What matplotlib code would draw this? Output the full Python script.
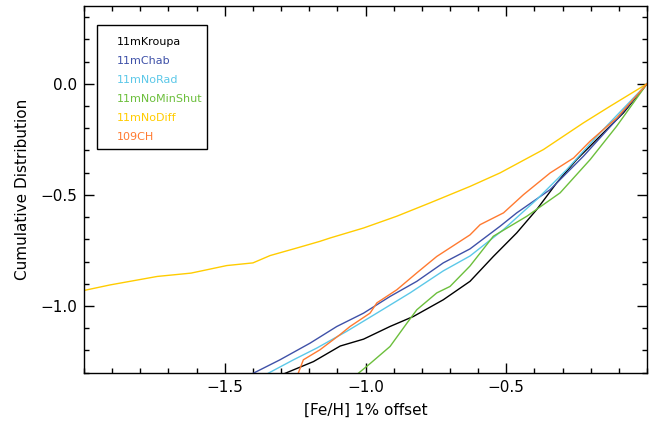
import matplotlib
matplotlib.use("Agg")
import matplotlib.pyplot as plt
from matplotlib.patches import Rectangle
from matplotlib.ticker import MultipleLocator

# cumulative distributions of [Fe/H] (1% offset) for each run
kroupa_x = [-1.286, -1.185, -1.09, -1.007, -0.913, -0.83, -0.724, -0.629, -0.546,
            -0.463, -0.392, -0.321, -0.25, -0.179, -0.084, 0.0]
kroupa_y = [-1.303, -1.25, -1.18, -1.149, -1.092, -1.047, -0.972, -0.889, -0.777,
            -0.671, -0.566, -0.446, -0.341, -0.251, -0.131, 0.0]

chab_x = [-1.398, -1.304, -1.197, -1.102, -1.007, -0.913, -0.818, -0.724, -0.629,
          -0.522, -0.463, -0.344, -0.226, -0.108, 0.0]
chab_y = [-1.302, -1.242, -1.167, -1.092, -1.032, -0.957, -0.889, -0.806, -0.743,
          -0.641, -0.581, -0.476, -0.326, -0.161, 0.0]

norad_x = [-1.345, -1.256, -1.173, -1.067, -0.96, -0.842, -0.724, -0.629, -0.51,
           -0.392, -0.285, -0.167, 0.0]
norad_y = [-1.302, -1.242, -1.189, -1.114, -1.032, -0.941, -0.842, -0.775, -0.656,
           -0.521, -0.386, -0.221, 0.0]

nominshut_x = [-1.025, -0.982, -0.913, -0.853, -0.818, -0.747, -0.7, -0.629, -0.546,
               -0.427, -0.309, -0.202, -0.108, 0.0]
nominshut_y = [-1.302, -1.257, -1.182, -1.077, -1.017, -0.941, -0.912, -0.82, -0.686,
               -0.596, -0.491, -0.341, -0.191, 0.0]

nodiff_x = [-2.0, -1.907, -1.74, -1.62, -1.493, -1.40, -1.339, -1.244, -1.162, -1.126,
            -1.007, -0.889, -0.771, -0.629, -0.522, -0.368, -0.226, -0.131, 0.0]
nodiff_y = [-0.93, -0.905, -0.867, -0.852, -0.818, -0.806, -0.773, -0.739, -0.709, -0.694,
            -0.649, -0.596, -0.536, -0.462, -0.401, -0.296, -0.176, -0.101, 0.0]

ch109_x = [-1.239, -1.221, -1.162, -1.091, -1.055, -0.984, -0.96, -0.889, -0.818,
           -0.747, -0.629, -0.593, -0.51, -0.439, -0.344, -0.261, -0.202, -0.108, 0.0]
ch109_y = [-1.302, -1.242, -1.197, -1.129, -1.092, -1.032, -0.986, -0.927, -0.851,
           -0.777, -0.68, -0.634, -0.581, -0.499, -0.401, -0.334, -0.258, -0.154, 0.0]

names = ["11mKroupa", "11mChab", "11mNoRad", "11mNoMinShut", "11mNoDiff", "109CH"]
colors = ["black", "#3f51a8", "#5cc8e8", "#6cbf3c", "#ffcc00", "#ff7a30"]
xs = [kroupa_x, chab_x, norad_x, nominshut_x, nodiff_x, ch109_x]
ys = [kroupa_y, chab_y, norad_y, nominshut_y, nodiff_y, ch109_y]

fig = plt.figure(figsize=(6.57, 4.24), dpi=100)
ax = fig.add_axes([0.1279, 0.121, 0.857, 0.865])

for x, y, c in zip(xs, ys, colors):
    ax.plot(x, y, color=c, lw=1.0)

ax.set_xlim(-2.0, 0.0)
ax.set_ylim(-1.3, 0.35)
ax.set_xticks([-1.5, -1.0, -0.5])
ax.set_yticks([-1.0, -0.5, 0.0])
ax.xaxis.set_minor_locator(MultipleLocator(0.1))
ax.yaxis.set_minor_locator(MultipleLocator(0.1))
ax.tick_params(which="both", direction="in", top=True, right=True, width=1)
ax.tick_params(which="major", length=7, labelsize=11, pad=5)
ax.tick_params(which="minor", length=3.5)
for s in ax.spines.values():
    s.set_linewidth(1)

ax.set_xlabel("[Fe/H] 1% offset", fontsize=11, labelpad=6)
ax.set_ylabel("Cumulative Distribution", fontsize=11, labelpad=7)

# boxed legend with coloured names
ax.add_patch(Rectangle((0.0226, 0.610), 0.196, 0.338, transform=ax.transAxes,
                       fill=False, edgecolor="black", lw=1, zorder=5))
for i, (n, c) in enumerate(zip(names, colors)):
    ax.text(0.0586, 0.902 - i * 0.0518, n, color=c, fontsize=8,
            transform=ax.transAxes, va="center", ha="left", zorder=6)

fig.savefig("out.png", dpi=100)
